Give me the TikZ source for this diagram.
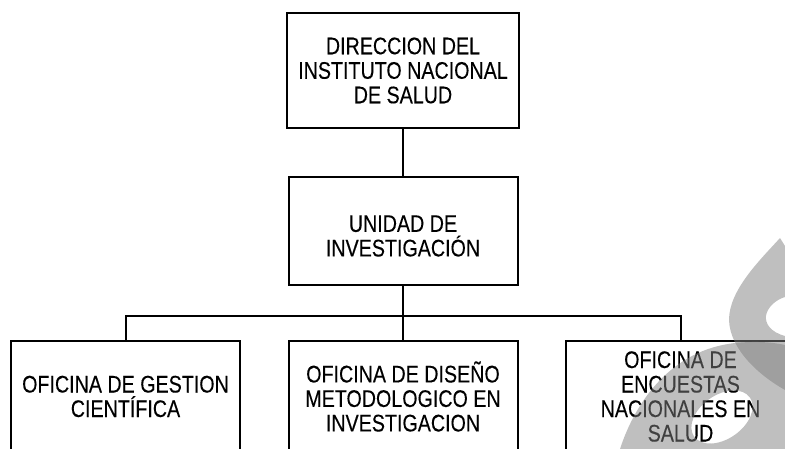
\documentclass[tikz,border=0pt]{standalone}
\usepackage{fontspec}
\setmainfont{Liberation Sans}[FakeStretch=0.82,FakeBold=0.15]
\begin{document}
\begin{tikzpicture}[x=1pt,y=-1pt,
  txt/.style={align=center, inner sep=0pt, font=\fontsize{24}{24.5}\selectfont},
  box/.style={draw, line width=2pt, txt, minimum width=229pt},
  link/.style={line width=2pt},
  wm/.style={fill=black!50, opacity=0.5}]
\useasboundingbox (0,0) rectangle (785,449);
\clip (0,0) rectangle (785,449);
% boxes
\node[box, minimum width=232pt, minimum height=115pt] (dir) at (403,70.5)
  {DIRECCION DEL\\INSTITUTO NACIONAL\\DE SALUD};
\node[box, minimum height=108pt] (uni) at (403,231) {};
\node[txt] (unitext) at (403,236) {UNIDAD DE\\INVESTIGACIÓN};
\node[box, minimum height=111pt] (ofa) at (125.5,396.5)
  {OFICINA DE GESTION\\CIENTÍFICA};
\node[box, minimum height=111pt] (ofb) at (403,396.5)
  {OFICINA DE DISEÑO\\METODOLOGICO EN\\INVESTIGACION};
\node[box, minimum height=111pt] (ofc) at (680.5,396.5)
  {OFICINA DE\\ENCUESTAS\\NACIONALES EN\\SALUD};
% connectors
\coordinate (bus) at (403,316);
\draw[link] (dir.south) -- (uni.north);
\draw[link] (uni.south) -- (bus);
\draw[link] (ofa.north) |- (bus) -| (ofc.north);
\draw[link] (bus) -- (ofb.north);
% watermark
\fill[wm] (780,238) .. controls (760,260) and (729,290) .. (729,320)
  .. controls (730,350) and (760,376) .. (785,390) -- (785,336)
  .. controls (770,332) and (765,323) .. (766,316)
  .. controls (767,308) and (775,300) .. (785,297) -- (785,246) -- cycle;
\fill[wm, even odd rule] (620,449) .. controls (636,400) and (672,350) .. (735,343)
  .. controls (755,341) and (772,342) .. (785,345) -- (785,449) -- cycle
  (749.9,397.5) .. controls (756.9,407.4) and (750.0,424.2) .. (734.6,435.0)
  .. controls (719.2,445.8) and (701.1,446.4) .. (694.1,436.5)
  .. controls (687.1,426.6) and (694.0,409.8) .. (709.4,399.0)
  .. controls (724.8,388.2) and (742.9,387.6) .. (749.9,397.5) -- cycle;
\end{tikzpicture}
\end{document}
